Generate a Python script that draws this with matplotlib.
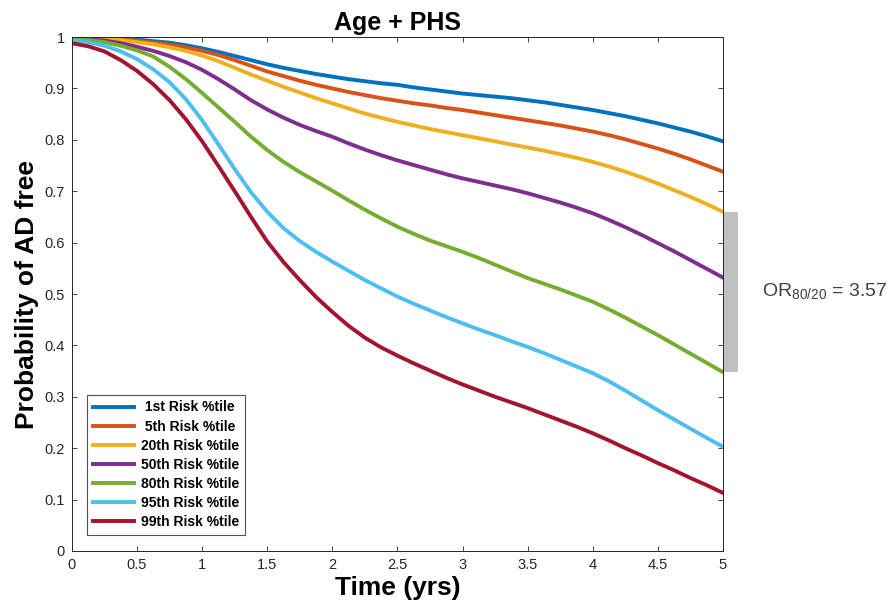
import matplotlib
matplotlib.use("Agg")
import matplotlib.pyplot as plt

plt.rcParams['font.family'] = ['Liberation Sans', 'DejaVu Sans']
plt.rcParams['mathtext.fontset'] = 'custom'
plt.rcParams['mathtext.rm'] = 'Liberation Sans'

time = [0, 0.125, 0.25, 0.375, 0.5, 0.625, 0.75, 0.875, 1.0, 1.125, 1.25, 1.375, 1.5, 1.625,
        1.75, 1.875, 2.0, 2.125, 2.25, 2.375, 2.5, 2.625, 2.75, 2.875, 3.0, 3.125, 3.25, 3.375,
        3.5, 3.625, 3.75, 3.875, 4.0, 4.125, 4.25, 4.375, 4.5, 4.625, 4.75, 4.875, 5.0]

p1 = [1.000, 1.000, 0.999, 0.997, 0.995, 0.992, 0.989, 0.984, 0.978, 0.971, 0.963, 0.955, 0.947, 0.940,
      0.934, 0.928, 0.923, 0.918, 0.914, 0.910, 0.907, 0.902, 0.898, 0.894, 0.890, 0.887, 0.884, 0.881,
      0.877, 0.873, 0.868, 0.863, 0.858, 0.852, 0.846, 0.839, 0.832, 0.824, 0.816, 0.807, 0.797]
p5 = [1.000, 0.999, 0.998, 0.996, 0.993, 0.989, 0.985, 0.980, 0.973, 0.965, 0.955, 0.944, 0.933, 0.924,
      0.915, 0.907, 0.900, 0.893, 0.887, 0.881, 0.876, 0.871, 0.867, 0.862, 0.858, 0.853, 0.848, 0.843,
      0.838, 0.833, 0.828, 0.822, 0.816, 0.809, 0.801, 0.792, 0.783, 0.773, 0.762, 0.750, 0.738]
p20 = [0.999, 0.998, 0.997, 0.994, 0.990, 0.986, 0.980, 0.973, 0.964, 0.953, 0.940, 0.927, 0.915, 0.903,
       0.892, 0.881, 0.871, 0.861, 0.851, 0.843, 0.835, 0.828, 0.821, 0.815, 0.809, 0.803, 0.797, 0.791,
       0.785, 0.779, 0.772, 0.765, 0.757, 0.748, 0.738, 0.727, 0.715, 0.702, 0.689, 0.675, 0.660]
p50 = [0.998, 0.996, 0.993, 0.988, 0.981, 0.973, 0.963, 0.951, 0.936, 0.918, 0.898, 0.877, 0.859, 0.843,
       0.829, 0.817, 0.806, 0.793, 0.781, 0.770, 0.760, 0.751, 0.742, 0.733, 0.725, 0.718, 0.711, 0.704,
       0.696, 0.687, 0.678, 0.668, 0.657, 0.644, 0.630, 0.615, 0.599, 0.583, 0.566, 0.549, 0.532]
p80 = [0.996, 0.994, 0.990, 0.983, 0.974, 0.962, 0.942, 0.918, 0.891, 0.863, 0.835, 0.806, 0.780, 0.757,
       0.737, 0.719, 0.701, 0.682, 0.664, 0.647, 0.631, 0.617, 0.604, 0.593, 0.582, 0.570, 0.557, 0.544,
       0.531, 0.520, 0.509, 0.497, 0.485, 0.470, 0.454, 0.437, 0.420, 0.402, 0.384, 0.366, 0.348]
p95 = [0.994, 0.990, 0.983, 0.972, 0.957, 0.937, 0.912, 0.879, 0.838, 0.791, 0.743, 0.698, 0.660, 0.628,
       0.603, 0.582, 0.563, 0.545, 0.527, 0.511, 0.495, 0.481, 0.468, 0.455, 0.443, 0.431, 0.420, 0.408,
       0.397, 0.385, 0.372, 0.359, 0.346, 0.330, 0.312, 0.293, 0.274, 0.256, 0.238, 0.220, 0.203]
p99 = [0.988, 0.982, 0.972, 0.955, 0.934, 0.908, 0.877, 0.840, 0.797, 0.749, 0.700, 0.650, 0.602, 0.562,
       0.527, 0.494, 0.465, 0.438, 0.415, 0.396, 0.380, 0.365, 0.351, 0.337, 0.324, 0.312, 0.300, 0.289,
       0.278, 0.266, 0.254, 0.242, 0.229, 0.215, 0.200, 0.186, 0.171, 0.157, 0.142, 0.128, 0.113]

labels = [" 1st Risk %tile", " 5th Risk %tile", "20th Risk %tile", "50th Risk %tile",
          "80th Risk %tile", "95th Risk %tile", "99th Risk %tile"]
colors = ["#0072BD", "#D95319", "#EDB120", "#7E2F8E", "#77AC30", "#4DBEEE", "#A2142F"]
series = [p1, p5, p20, p50, p80, p95, p99]

xticks = [0, 0.5, 1, 1.5, 2, 2.5, 3, 3.5, 4, 4.5, 5]
xticklabels = ["0", "0.5", "1", "1.5", "2", "2.5", "3", "3.5", "4", "4.5", "5"]
yticks = [0, 0.1, 0.2, 0.3, 0.4, 0.5, 0.6, 0.7, 0.8, 0.9, 1]
yticklabels = ["0", "0.1", "0.2", "0.3", "0.4", "0.5", "0.6", "0.7", "0.8", "0.9", "1"]
or_text = r"OR$_{\mathregular{80/20}}$ = 3.57"

fig = plt.figure(figsize=(8.95, 6.12), dpi=100)
ax = fig.add_axes([0.0804, 0.0997, 0.7274, 0.8398])

for y, lab, c in zip(series, labels, colors):
    ax.plot(time, y, color=c, lw=2.8, label=lab, solid_joinstyle='round')

ax.set_xlim(0, 5)
ax.set_ylim(0, 1)
ax.set_xticks(xticks)
ax.set_xticklabels(xticklabels)
ax.set_yticks(yticks)
ax.set_yticklabels(yticklabels)
ax.tick_params(direction='in', length=3.6, width=0.6, top=True, right=True,
               labelsize=10.5, colors='#262626', pad=5)
for s in ax.spines.values():
    s.set_color('#262626')
    s.set_linewidth(0.7)

ax.set_title("Age + PHS", fontsize=18, fontweight='bold', pad=5)
ax.set_xlabel("Time (yrs)", fontsize=19, fontweight='bold', labelpad=3)
ax.set_ylabel("Probability of AD free", fontsize=19, fontweight='bold', labelpad=4)

# gray bar spanning 80th to 20th endpoints
ax.bar(5.062, p20[-1] - p80[-1], bottom=p80[-1], width=0.105, color='#bfc0c4',
       clip_on=False, zorder=0)
ax.text(5.3, (p20[-1] + p80[-1]) / 2, or_text, fontsize=14, color='#404040',
        va='center', ha='left', clip_on=False)

leg = ax.legend(loc='lower left', bbox_to_anchor=(0.023, 0.031), borderaxespad=0,
                prop={'weight': 'bold', 'size': 10}, frameon=True, fancybox=False,
                handlelength=3.0, labelspacing=0.37, handletextpad=0.45,
                borderpad=0.42)
leg.get_frame().set_edgecolor('#262626')
leg.get_frame().set_linewidth(0.8)

fig.savefig("out.png", dpi=100)
